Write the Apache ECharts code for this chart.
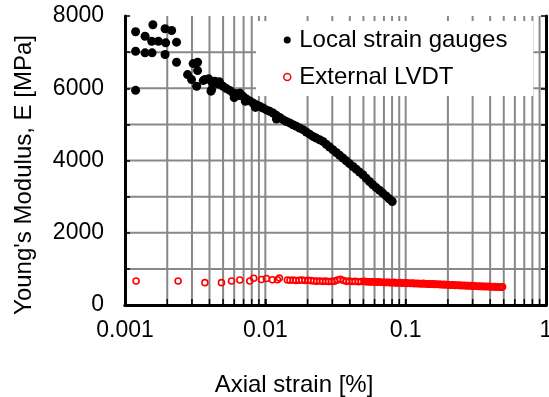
<!DOCTYPE html>
<html>
<head>
<meta charset="utf-8">
<script src="https://cdn.jsdelivr.net/npm/echarts@6/dist/echarts.min.js"></script>
<style>
  html, body { margin: 0; padding: 0; background: #fff; }
  #chart { width: 549px; height: 397px; }
</style>
</head>
<body>
<div id="chart"></div>
<script>
// Local strain gauges: strain [%] and Young's modulus [MPa]
const gaugeStrain = [
  0.00119, 0.00158, 0.00139, 0.00155, 0.00173, 0.00193, 0.00215, 0.00195, 0.00233,
  0.00119, 0.00139, 0.00156, 0.00193, 0.00233, 0.00306, 0.00329, 0.00329, 0.00279,
  0.00298, 0.00324, 0.00361, 0.00414, 0.00119,
  0.00371, 0.00395, 0.00415, 0.00437, 0.00458, 0.00478, 0.00500, 0.00528, 0.00558, 0.00589,
  0.00622, 0.00657, 0.00694, 0.00735, 0.00775, 0.00817, 0.00862, 0.00912, 0.00963, 0.01018,
  0.01075, 0.01134, 0.01198, 0.01265, 0.01336, 0.01411, 0.01490, 0.01574, 0.01662, 0.01755,
  0.01854, 0.01958, 0.02068, 0.02184, 0.02306, 0.02436, 0.02572, 0.02716, 0.02870, 0.0303,
  0.0320, 0.0338, 0.0357, 0.0377, 0.0398, 0.0421, 0.0444, 0.0469, 0.0495, 0.0523,
  0.0552, 0.0583, 0.0616, 0.0651, 0.0687, 0.0725, 0.0762, 0.0802,
  0.0041, 0.0047, 0.0060, 0.0066, 0.0072, 0.0085, 0.0120
];
const gaugeModulus = [
  7563, 7757, 7441, 7302, 7302, 7646, 7598, 7257, 7275,
  7024, 6980, 6980, 6933, 6720, 6683, 6720, 6489, 6378,
  6240, 6054, 6212, 5962, 5943,
  6239, 6260, 6170, 6192, 6120, 6110, 6053, 5990, 5940, 5870,
  5850, 5800, 5776, 5700, 5650, 5593, 5540, 5500, 5454, 5400,
  5360, 5316, 5250, 5190, 5130, 5080, 5040, 4991, 4945, 4900,
  4853, 4790, 4730, 4667, 4620, 4575, 4528, 4450, 4375, 4298,
  4220, 4145, 4068, 3990, 3912, 3835, 3760, 3680, 3605, 3510,
  3420, 3328, 3250, 3175, 3097, 3020, 2940, 2864,
  5920, 6180, 5740, 5860, 5640, 5470, 5150
];

// External LVDT
const lvdtStrain = [
  0.00120, 0.00239, 0.00371, 0.00487, 0.00574, 0.00658, 0.00775, 0.00827, 0.00938, 0.01018,
  0.01123, 0.01219, 0.01260, 0.01436,
  0.0150, 0.0158, 0.0165, 0.0174, 0.0182, 0.0191, 0.0201, 0.0211, 0.0221, 0.0232,
  0.0244, 0.0256, 0.0269, 0.0282, 0.0296, 0.0311, 0.0327, 0.0343, 0.0360, 0.0378,
  0.0397, 0.0417, 0.0438, 0.0460, 0.0483, 0.0507, 0.0532, 0.0559, 0.0587, 0.0616,
  0.0647, 0.0679, 0.0713, 0.0749, 0.0786, 0.0826, 0.0867, 0.0910, 0.0956, 0.1004,
  0.105, 0.111, 0.116, 0.122, 0.128, 0.134, 0.141, 0.148, 0.156, 0.163,
  0.172, 0.180, 0.189, 0.199, 0.209, 0.219, 0.230, 0.241, 0.253, 0.266,
  0.279, 0.293, 0.308, 0.323, 0.340, 0.357, 0.374, 0.393, 0.413, 0.433,
  0.455, 0.478, 0.490,
  0.0519, 0.0545, 0.0573, 0.0601, 0.0631, 0.0663, 0.0696, 0.0731, 0.0767, 0.0806,
  0.0846, 0.0888, 0.0933, 0.0980,
  0.1027, 0.108, 0.1135, 0.119, 0.125, 0.131, 0.1375, 0.1445, 0.152, 0.1595,
  0.1675, 0.176, 0.1845, 0.194, 0.204, 0.214, 0.2245, 0.2355, 0.247, 0.2595,
  0.2725, 0.286, 0.3005, 0.3155, 0.3315, 0.3485, 0.3655, 0.3835, 0.403, 0.423,
  0.444, 0.4665, 0.484
];
const lvdtModulus = [
  665, 665, 618, 618, 665, 693, 665, 740, 705, 735,
  700, 700, 745, 693,
  685, 690, 680, 685, 690, 680, 685, 675, 665, 660,
  665, 655, 660, 650, 655, 660, 690, 710, 680, 655,
  660, 650, 655, 645, 650, 655, 645, 640, 645, 635,
  640, 630, 625, 630, 620, 625, 615, 620, 610, 612,
  605, 608, 600, 602, 595, 598, 590, 585, 588, 580,
  578, 572, 570, 565, 560, 558, 552, 550, 545, 542,
  538, 535, 530, 528, 525, 520, 518, 515, 510, 508,
  505, 500, 502,
  648, 642, 640, 636, 632, 628, 624, 622, 618, 615,
  612, 610, 606, 604,
  600, 596, 592, 590, 585, 583, 580, 576, 575, 570,
  566, 562, 558, 555, 550, 546, 543, 540, 535, 532,
  528, 525, 520, 518, 514, 510, 508, 504, 500, 498,
  495, 492, 490
];

// axes
const xMin = 0.001, xMax = 1;
const xGridLines = [
  0.002, 0.003, 0.004, 0.005, 0.006, 0.007, 0.008, 0.009, 0.01,
  0.02, 0.03, 0.04, 0.05, 0.06, 0.07, 0.08, 0.09, 0.1,
  0.2, 0.3, 0.4, 0.5, 0.6, 0.7, 0.8, 0.9
];
const yGridLines = [1000, 2000, 3000, 4000, 5000, 6000, 7000];
const yMin = 0, yMax = 8000, yStep = 1000, yLabelStep = 2000;

const FONT = '"Liberation Sans", Arial, sans-serif';
const GRID_GRAY = '#888888';

const zip = (xs, ys) => xs.map((x, i) => [x, ys[i]]);

const chart = echarts.init(document.getElementById('chart'), null, { renderer: 'canvas' });

function vLine(params, api) {
  const x = api.value(0);
  const bot = api.coord([x, yMin]);
  const top = api.coord([x, yMax]);
  return {
    type: 'group',
    children: [
      { type: 'line', shape: { x1: bot[0], y1: bot[1], x2: top[0], y2: top[1] },
        style: { stroke: GRID_GRAY, lineWidth: 2 } },
      { type: 'line', shape: { x1: bot[0], y1: bot[1], x2: bot[0], y2: bot[1] - 6 },
        style: { stroke: '#000', lineWidth: 1.5 } }
    ]
  };
}

function hLine(params, api) {
  const y = api.value(1);
  const a = api.coord([xMin, y]);
  const b = api.coord([xMax, y]);
  return { type: 'line', shape: { x1: a[0], y1: a[1], x2: b[0], y2: b[1] },
    style: { stroke: GRID_GRAY, lineWidth: 2 } };
}

const axisLine = { show: true, lineStyle: { color: '#000', width: 3 } };

const option = {
  animation: false,
  backgroundColor: '#fff',
  grid: { left: 125, right: 3, top: 16, bottom: 92, outerBoundsMode: 'none', containLabel: false },
  xAxis: [
    {
      type: 'log', logBase: 10, min: xMin, max: xMax, z: 3,
      axisLine: axisLine,
      axisTick: { show: true, inside: true, length: 6, lineStyle: { color: '#000', width: 1.5 } },
      axisLabel: {
        fontSize: 23, fontFamily: FONT, color: '#000', margin: 14,
        showMinLabel: true, showMaxLabel: true, hideOverlap: false,
        formatter: v => String(+Number(v).toPrecision(3))
      },
      splitLine: { show: false }
    },
    {
      type: 'log', logBase: 10, min: xMin, max: xMax, position: 'top', z: 3,
      axisLine: axisLine,
      axisTick: { show: false }, axisLabel: { show: false }, splitLine: { show: false }
    }
  ],
  yAxis: [
    {
      type: 'value', min: yMin, max: yMax, interval: yStep, z: 3,
      axisLine: axisLine,
      axisTick: { show: true, inside: true, length: 5, lineStyle: { color: '#000', width: 1.5 } },
      axisLabel: {
        fontSize: 23, fontFamily: FONT, color: '#000', margin: 21,
        formatter: v => (v % yLabelStep === 0 ? String(v) : '')
      },
      splitLine: { show: false }
    },
    {
      type: 'value', min: yMin, max: yMax, interval: yStep, position: 'right', z: 3,
      axisLine: axisLine,
      axisTick: { show: true, inside: true, length: 5, lineStyle: { color: '#000', width: 1.5 } },
      axisLabel: { show: false }, splitLine: { show: false }
    }
  ],
  legend: {
    orient: 'vertical', left: 256, top: 21,
    padding: [7, 26, 7, 27],
    backgroundColor: '#fff',
    itemWidth: 14, itemHeight: 7, itemGap: 13,
    textStyle: { fontSize: 24, fontFamily: FONT, color: '#000', lineHeight: 24 },
    data: [
      { name: 'Local strain gauges', icon: 'circle' },
      { name: 'External LVDT', icon: 'circle',
        itemStyle: { color: 'rgba(0,0,0,0)', borderColor: '#ff0000', borderWidth: 1.5 } }
    ],
    z: 4
  },
  graphic: [
    { type: 'text', x: 24, y: 175, rotation: Math.PI / 2,
      style: { text: "Young's Modulus, E [MPa]", fontSize: 24, fontFamily: FONT, fill: '#000',
        align: 'center', verticalAlign: 'middle' } },
    { type: 'text', x: 294, y: 385,
      style: { text: 'Axial strain [%]', fontSize: 24, fontFamily: FONT, fill: '#000',
        align: 'center', verticalAlign: 'middle' } }
  ],
  series: [
    { type: 'custom', name: 'xgrid', z: 1, silent: true, renderItem: vLine,
      data: xGridLines.map(v => [v, yMin]) },
    { type: 'custom', name: 'ygrid', z: 1, silent: true, renderItem: hLine,
      data: yGridLines.map(v => [xMin, v]) },
    {
      name: 'Local strain gauges', type: 'scatter', z: 2,
      symbol: 'circle', symbolSize: 9,
      itemStyle: { color: '#000', opacity: 1 },
      data: zip(gaugeStrain, gaugeModulus)
    },
    {
      name: 'External LVDT', type: 'scatter', z: 2,
      symbol: 'circle', symbolSize: 6,
      itemStyle: { color: 'rgba(0,0,0,0)', borderColor: '#ff0000', borderWidth: 1.6, opacity: 1 },
      data: zip(lvdtStrain, lvdtModulus)
    }
  ]
};

chart.setOption(option);
</script>
</body>
</html>
